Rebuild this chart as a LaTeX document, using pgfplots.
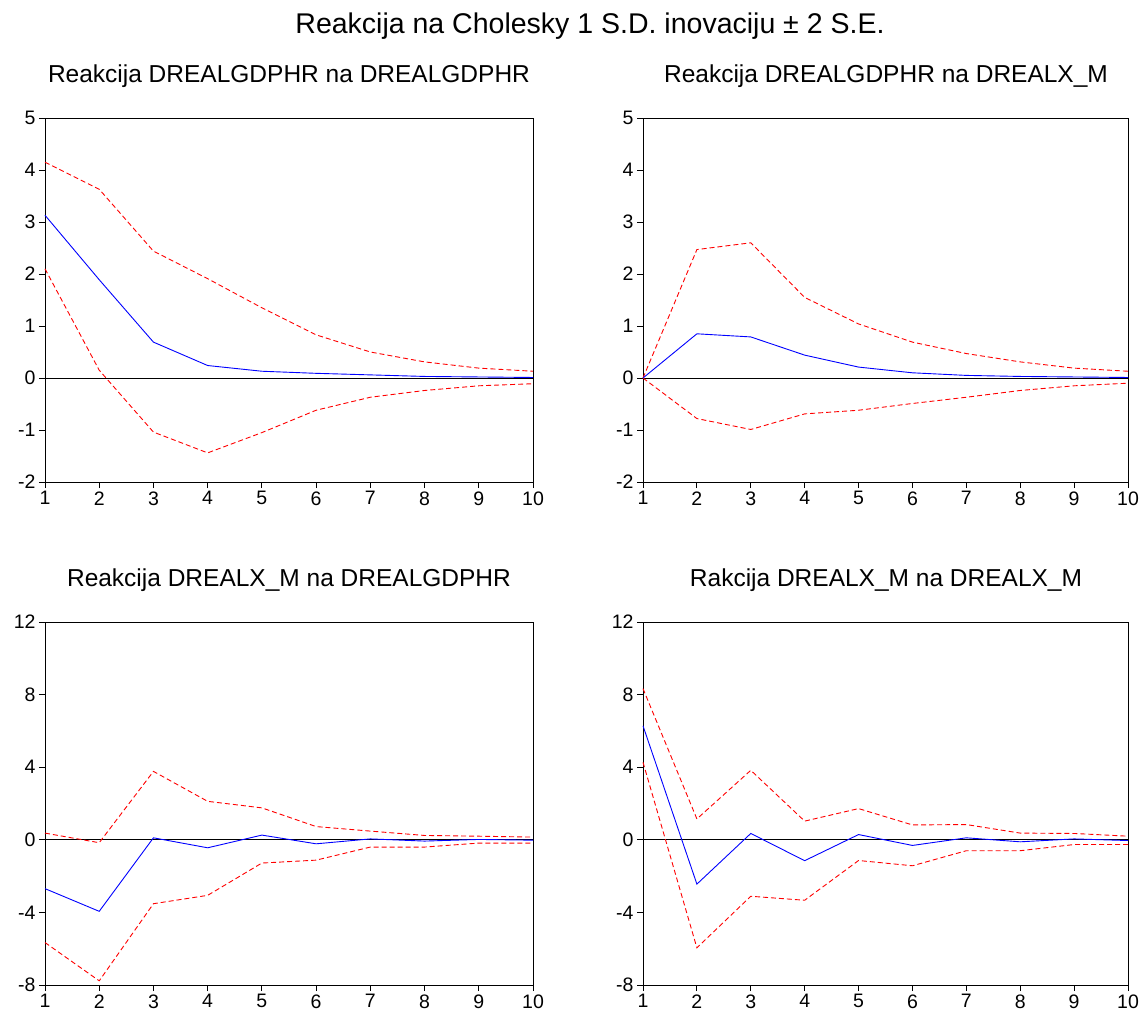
\documentclass[border=0pt]{standalone}
\usepackage{fontspec}
\setmainfont{Liberation Sans}
\usepackage{pgfplots}
\pgfplotsset{compat=1.18}

\definecolor{irfblue}{RGB}{0,0,255}
\definecolor{irfred}{RGB}{255,0,0}

\pgfplotsset{
  irf/.style={
    scale only axis,
    width=488pt, height=364pt,
    xmin=1, xmax=10,
    xtick={1,...,10},
    tick align=outside,
    xtick pos=bottom, ytick pos=left,
    major tick length=6pt,
    tick style={black, line width=0.8pt},
    axis line style={black, line width=1pt},
    tick label style={font=\fontsize{19.5}{22}\selectfont},
    xticklabel style={yshift=0pt},
    yticklabel style={xshift=0pt},
    /pgf/number format/assume math mode=true,
    clip=false,
  },
  mid/.style={irfblue, line width=0.9pt},
  band/.style={irfred, line width=0.9pt, dash pattern=on 5pt off 3pt},
}

\begin{document}
\begin{tikzpicture}
\useasboundingbox (0,0) rectangle (1145pt,-1018pt);

\node at (590pt,-26pt) {\fontsize{28.5}{32}\selectfont Reakcija na Cholesky 1 S.D. inovaciju ± 2 S.E.};
\node at (289pt,-76pt) {\fontsize{24.5}{28}\selectfont Reakcija DREALGDPHR na DREALGDPHR};
\node at (886pt,-76pt) {\fontsize{24.5}{28}\selectfont Reakcija DREALGDPHR na DREALX\_M};
\node at (289pt,-580pt) {\fontsize{24.5}{28}\selectfont Reakcija DREALX\_M na DREALGDPHR};
\node at (886pt,-580pt) {\fontsize{24.5}{28}\selectfont Rakcija DREALX\_M na DREALX\_M};

% GDP na GDP
\begin{axis}[irf, at={(45pt,-118pt)}, anchor=north west,
  ymin=-2, ymax=5, ytick={-2,-1,...,5}]
\addplot[black, line width=0.7pt] coordinates {(1,0) (10,0)};
\addplot[band] coordinates {(1,4.15) (2,3.63) (3,2.44) (4,1.91) (5,1.35) (6,0.83) (7,0.50) (8,0.31) (9,0.19) (10,0.13)};
\addplot[band] coordinates {(1,2.10) (2,0.15) (3,-1.04) (4,-1.44) (5,-1.05) (6,-0.62) (7,-0.37) (8,-0.24) (9,-0.15) (10,-0.11)};
\addplot[mid] coordinates {(1,3.13) (2,1.89) (3,0.69) (4,0.24) (5,0.13) (6,0.09) (7,0.06) (8,0.03) (9,0.02) (10,0.01)};
\end{axis}

% GDP na X_M
\begin{axis}[irf, at={(643pt,-118pt)}, anchor=north west, width=485pt,
  ymin=-2, ymax=5, ytick={-2,-1,...,5}]
\addplot[black, line width=0.7pt] coordinates {(1,0) (10,0)};
\addplot[band] coordinates {(1,0) (2,2.47) (3,2.60) (4,1.55) (5,1.04) (6,0.69) (7,0.47) (8,0.31) (9,0.19) (10,0.13)};
\addplot[band] coordinates {(1,0) (2,-0.78) (3,-0.99) (4,-0.69) (5,-0.62) (6,-0.49) (7,-0.37) (8,-0.24) (9,-0.15) (10,-0.10)};
\addplot[mid] coordinates {(1,0) (2,0.85) (3,0.79) (4,0.44) (5,0.21) (6,0.10) (7,0.05) (8,0.03) (9,0.02) (10,0.01)};
\end{axis}

% X_M na GDP
\begin{axis}[irf, at={(45pt,-622pt)}, anchor=north west, height=363pt,
  ymin=-8, ymax=12, ytick={-8,-4,...,12}]
\addplot[black, line width=0.7pt] coordinates {(1,0) (10,0)};
\addplot[band] coordinates {(1,0.37) (2,-0.16) (3,3.77) (4,2.12) (5,1.76) (6,0.73) (7,0.48) (8,0.24) (9,0.20) (10,0.15)};
\addplot[band] coordinates {(1,-5.66) (2,-7.77) (3,-3.52) (4,-3.06) (5,-1.28) (6,-1.12) (7,-0.40) (8,-0.40) (9,-0.18) (10,-0.18)};
\addplot[mid] coordinates {(1,-2.69) (2,-3.94) (3,0.11) (4,-0.44) (5,0.26) (6,-0.22) (7,0.05) (8,-0.07) (9,0.02) (10,-0.02)};
\end{axis}

% X_M na X_M
\begin{axis}[irf, at={(643pt,-622pt)}, anchor=north west, width=485pt, height=363pt,
  ymin=-8, ymax=12, ytick={-8,-4,...,12}]
\addplot[black, line width=0.7pt] coordinates {(1,0) (10,0)};
\addplot[band] coordinates {(1,8.33) (2,1.15) (3,3.83) (4,1.03) (5,1.72) (6,0.82) (7,0.84) (8,0.37) (9,0.35) (10,0.20)};
\addplot[band] coordinates {(1,4.27) (2,-5.95) (3,-3.11) (4,-3.33) (5,-1.14) (6,-1.43) (7,-0.60) (8,-0.60) (9,-0.26) (10,-0.26)};
\addplot[mid] coordinates {(1,6.28) (2,-2.44) (3,0.35) (4,-1.15) (5,0.29) (6,-0.31) (7,0.11) (8,-0.11) (9,0.05) (10,-0.04)};
\end{axis}
\end{tikzpicture}
\end{document}
